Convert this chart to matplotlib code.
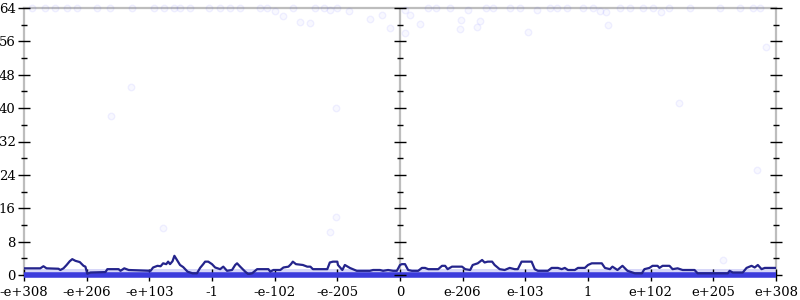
import numpy as np
import matplotlib
matplotlib.use("Agg")
import matplotlib.pyplot as plt
from matplotlib.ticker import MultipleLocator

plt.rcParams['font.family'] = ['DejaVu Serif']

# x positions are in tick units: -6 = -e+308 ... 0 = 0 ... 6 = e+308
tick_pos = [-6, -5, -4, -3, -2, -1, 0, 1, 2, 3, 4, 5, 6]
tick_labels = ["-e+308", "-e+206", "-e+103", "-1", "-e-102", "-e-205", "0",
               "e-206", "e-103", "1", "e+102", "e+205", "e+308"]

# mean error line (ulps)
mean_x = [-6.00, -5.74, -5.69, -5.64, -5.45, -5.42, -5.37, -5.32, -5.27, -5.23,
          -5.18, -5.11, -5.05, -5.02, -4.99, -4.94, -4.70, -4.67, -4.49, -4.46,
          -4.40, -4.33, -3.98, -3.94, -3.87, -3.82, -3.78, -3.73, -3.70, -3.67,
          -3.63, -3.60, -3.55, -3.51, -3.46, -3.39, -3.31, -3.24, -3.19, -3.14,
          -3.11, -3.06, -3.00, -2.95, -2.87, -2.82, -2.76, -2.68, -2.63, -2.60,
          -2.55, -2.47, -2.42, -2.36, -2.28, -2.10, -2.07, -2.02, -1.91, -1.86,
          -1.78, -1.74, -1.71, -1.66, -1.55, -1.48, -1.43, -1.39, -1.16, -1.12,
          -1.07, -1.00, -0.99, -0.92, -0.88, -0.80, -0.72, -0.69, -0.48, -0.43,
          -0.32, -0.27, -0.19, -0.11, -0.05, 0.00,
          0.03, 0.08, 0.13, 0.19, 0.29, 0.35, 0.40, 0.45, 0.61, 0.67,
          0.72, 0.76, 0.83, 0.99, 1.04, 1.12, 1.16, 1.24, 1.31, 1.35,
          1.40, 1.47, 1.51, 1.59, 1.67, 1.75, 1.83, 1.88, 1.94, 2.10,
          2.15, 2.20, 2.36, 2.42, 2.52, 2.58, 2.63, 2.68, 2.79, 2.84,
          2.95, 3.00, 3.06, 3.22, 3.27, 3.35, 3.39, 3.47, 3.55, 3.63,
          3.75, 3.86, 3.90, 3.98, 4.03, 4.11, 4.14, 4.19, 4.30, 4.35,
          4.43, 4.51, 4.70, 4.75, 5.23, 5.26, 5.31, 5.47, 5.53, 5.61,
          5.66, 5.71, 5.77, 5.82, 6.00]
mean_err = [1.6, 1.6, 2.1, 1.6, 1.5, 1.2, 1.6, 2.4, 3.3, 3.8,
            3.4, 3.1, 2.2, 2.0, 0.3, 0.6, 0.7, 1.4, 1.4, 1.0,
            1.6, 1.2, 1.0, 1.8, 2.2, 2.1, 2.8, 2.6, 3.2, 2.6,
            3.3, 4.6, 3.4, 2.4, 1.9, 0.8, 0.4, 0.4, 1.7, 2.6,
            3.2, 3.2, 2.6, 1.8, 1.4, 2.0, 1.0, 1.2, 2.4, 2.8,
            2.0, 0.8, 0.2, 0.4, 1.4, 1.4, 0.8, 1.2, 1.2, 1.8,
            2.0, 2.6, 3.2, 2.6, 2.4, 2.0, 2.0, 1.4, 1.4, 3.0,
            3.2, 3.2, 2.4, 1.2, 2.4, 1.7, 1.2, 1.0, 1.0, 1.2,
            1.2, 1.0, 1.2, 1.0, 1.0, 2.4,
            2.6, 2.6, 1.2, 1.0, 1.0, 1.7, 1.7, 1.4, 1.4, 2.2,
            2.2, 1.4, 2.0, 2.0, 1.4, 1.2, 2.4, 2.8, 3.6, 3.0,
            3.2, 3.2, 2.4, 1.4, 1.2, 1.7, 1.4, 1.4, 3.2, 3.2,
            1.4, 1.0, 1.0, 1.7, 1.7, 1.4, 1.7, 1.2, 1.2, 1.7,
            1.7, 2.4, 2.8, 2.8, 1.7, 1.4, 2.0, 1.2, 2.2, 1.0,
            0.4, 0.4, 1.4, 1.7, 2.2, 2.2, 1.7, 2.2, 2.2, 1.4,
            1.6, 1.2, 1.2, 0.4, 0.4, 1.0, 0.6, 0.6, 1.7, 2.2,
            1.8, 2.4, 1.4, 1.7, 1.7]

# sampled errors that are not zero (faint points)
pts_x = [-5.87, -5.66, -5.50, -5.31, -5.15, -4.83, -4.62, -4.28, -3.93, -3.77,
         -3.61, -3.51, -3.35, -3.05, -2.87, -2.71, -2.55, -2.23, -2.12, -1.99,
         -1.86, -1.70, -1.59, -1.43, -1.35, -1.22, -1.12, -1.01, -0.82, -0.48,
         -0.29, -0.16, 0.08, 0.08, 0.16, 0.32, 0.45, 0.58, 0.80, 0.98,
         0.96, 1.09, 1.27, 1.23, 1.38, 1.49, 1.75, 1.91, 2.05, 2.18,
         2.39, 2.50, 2.66, 2.92, 3.08, 3.19, 3.29, 3.32, 3.51, 3.67,
         3.88, 4.04, 4.17, 4.30, 4.62, 5.10, 5.42, 5.63, 5.74, 5.84,
         -4.61, -4.29, -3.78, -1.02, -1.02, -1.12, 4.46, 5.69, 5.15]
pts_err = [64, 64, 64, 64, 64, 64, 64, 64, 64, 64,
           64, 64, 64, 64, 64, 64, 64, 64, 64, 63.3,
           62.1, 64, 60.7, 60.4, 64, 64, 63.5, 64, 63.3, 61.3,
           62.3, 59.2, 63.6, 57.9, 62.3, 60.2, 64, 64, 64, 61.2,
           59.0, 63.5, 60.9, 59.4, 64, 64, 64, 64, 58.3, 63.6,
           64, 64, 64, 64, 64, 63.3, 63.1, 59.9, 64, 64,
           64, 64, 63.1, 64, 64, 64, 64, 64, 64, 54.7,
           38.1, 45.1, 11.3, 40.0, 13.9, 10.3, 41.2, 25.2, 3.6]

# exact (zero error) samples cover the whole range, plus a faint sub-ulp band
zero_x = [-6, 6]
zero_err = [0, 0]
band_x = [-6, 6]
band_hi = [1.4, 1.4]

fig = plt.figure(figsize=(8, 3), dpi=100)
ax = fig.add_axes([24 / 800, 25 / 300, 752 / 800, 267 / 300])

grey = '#bdbdbd'
ax.fill_between(band_x, 0, band_hi, color='#d6d6f8', lw=0, zorder=1)
ax.plot(zero_x, zero_err, color='#3c3cdc', lw=4, solid_capstyle='butt', zorder=2,
        clip_on=False)
ax.scatter(pts_x, pts_err, s=22, facecolors=(0.3, 0.3, 1.0, 0.04),
           edgecolors=(0.3, 0.3, 1.0, 0.07), linewidths=1.0, zorder=2, clip_on=False)
ax.plot(mean_x, mean_err, color='#24248c', lw=1.6, zorder=3)

ax.set_xlim(-6, 6)
ax.set_ylim(0, 64)

for s in ax.spines.values():
    s.set_color(grey)
    s.set_linewidth(1.6)
    s.set_zorder(0)
ax.axvline(0, color=grey, lw=1.6, zorder=0)

ax.set_xticks(tick_pos)
ax.set_xticklabels(tick_labels)
ax.yaxis.set_major_locator(MultipleLocator(8))
ax.yaxis.set_minor_locator(MultipleLocator(4))
ax.tick_params(axis='both', which='major', direction='inout', length=8, width=1,
               color='black', labelsize=9.5, pad=2)
ax.tick_params(axis='y', which='minor', direction='inout', length=4, width=1, color='black')
ax.tick_params(axis='y', which='both', right=True)
ax.tick_params(axis='x', which='major', top=False, pad=4)

# ticks on the y axis drawn at x = 0
for v in range(0, 65, 4):
    ax.plot([0], [v], marker='_', color='black', ms=8 if v % 8 == 0 else 4,
            mew=1, zorder=4, clip_on=False)

fig.savefig('out.png', dpi=100)
